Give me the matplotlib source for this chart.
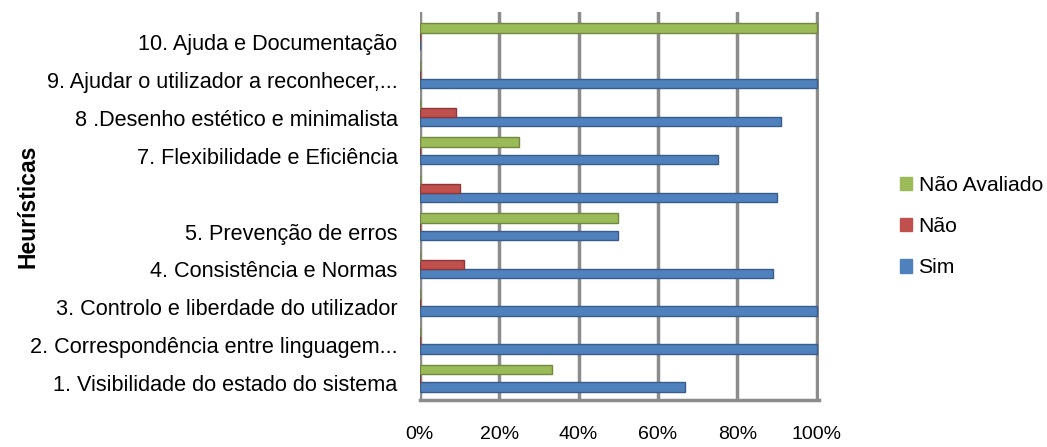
import numpy as np
import matplotlib
matplotlib.use("Agg")
import matplotlib.pyplot as plt
from matplotlib.patches import Patch

plt.rcParams["font.family"] = ["Liberation Sans", "DejaVu Sans"]

# dados (percentagens)
categorias = [
    "1. Visibilidade do estado do sistema",
    "2. Correspondência entre linguagem...",
    "3. Controlo e liberdade do utilizador",
    "4. Consistência e Normas",
    "5. Prevenção de erros",
    "",
    "7. Flexibilidade e Eficiência",
    "8 .Desenho estético e minimalista",
    "9. Ajudar o utilizador a reconhecer,...",
    "10. Ajuda e Documentação",
]
sim = [66.7, 100, 100, 88.9, 50, 90, 75, 90.9, 100, 0]
nao = [0, 0, 0, 11.1, 0, 10, 0, 9.1, 0, 0]
nao_avaliado = [33.3, 0, 0, 0, 50, 0, 25, 0, 0, 100]
xticks = [0, 20, 40, 60, 80, 100]

fig = plt.figure(figsize=(10.47, 4.47), dpi=100)
ax = fig.add_axes([0.401, 0.105, 0.381, 0.868])

y = np.arange(1, len(categorias) + 1)
h = 0.25
ax.barh(y - 0.10, sim, height=h, color="#4F81BD", edgecolor="#385D8A", linewidth=1.0, zorder=3)
ax.barh(y + 0.13, nao, height=h, color="#C0504D", edgecolor="#8C3836", linewidth=1.0, zorder=3)
ax.barh(y + 0.36, nao_avaliado, height=h, color="#9BBB59", edgecolor="#71893F", linewidth=1.0, zorder=3)

ax.set_xlim(0, 100.5)
ax.set_ylim(0.56, 10.78)
ax.set_xticks(xticks)
ax.set_xticklabels([f"{t}%" for t in xticks], fontsize=14)
ax.set_yticks(y)
ax.set_yticklabels(categorias, fontsize=15.6)
ax.tick_params(axis="x", length=0, pad=19)
ax.tick_params(axis="y", length=0, pad=16)

for t in xticks:
    ax.axvline(t, color="#8c8c8c", linewidth=2.5, zorder=1)
for s in ["top", "right", "left"]:
    ax.spines[s].set_visible(False)
ax.spines["bottom"].set_color("#8c8c8c")
ax.spines["bottom"].set_linewidth(2.5)

fig.text(0.027, 0.538, "Heurísticas", rotation=90, fontsize=16.5, fontweight="bold",
         ha="center", va="center")

handles = [Patch(facecolor="#9BBB59", edgecolor="#9BBB59"),
           Patch(facecolor="#C0504D", edgecolor="#C0504D"),
           Patch(facecolor="#4F81BD", edgecolor="#4F81BD")]
fig.legend(handles, ["Não Avaliado", "Não", "Sim"], loc="center left",
           bbox_to_anchor=(0.841, 0.493), frameon=False, fontsize=15.2,
           handlelength=0.6, handleheight=0.6, handletextpad=0.3, labelspacing=1.05)

fig.savefig("out.png", dpi=100)
